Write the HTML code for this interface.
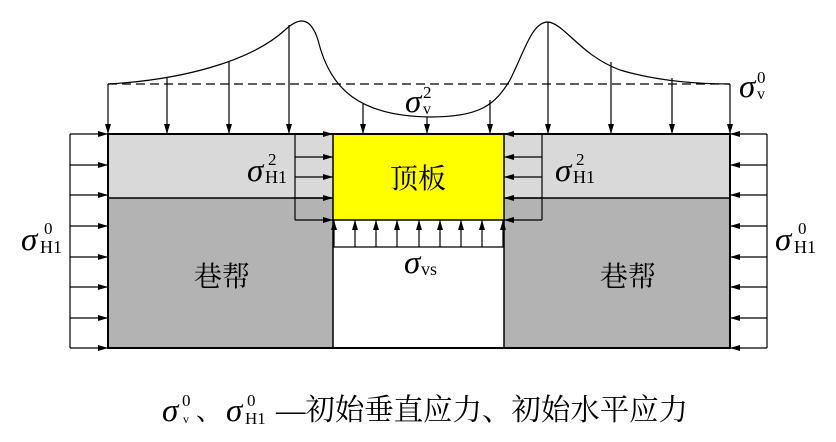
<!DOCTYPE html>
<html><head><meta charset="utf-8"><style>
html,body{margin:0;padding:0;background:#fff;}
svg{display:block;}
text{font-family:"Liberation Serif","Noto Serif CJK SC",serif;fill:#000;}
.s{font-size:33px;font-style:italic;}
</style></head><body>
<svg width="836" height="442" viewBox="0 0 836 442" xmlns="http://www.w3.org/2000/svg">
<defs>
<marker id="a" markerWidth="10" markerHeight="6" refX="10" refY="3" orient="auto" markerUnits="userSpaceOnUse">
<path d="M0,0 L10,3 L0,6 Z" fill="#000"/></marker>
</defs>
<rect x="108" y="134" width="622" height="64" fill="#d9d9d9"/>
<rect x="108" y="198" width="225" height="150" fill="#b3b3b3"/>
<rect x="504" y="198" width="226" height="150" fill="#b3b3b3"/>
<rect x="333" y="198" width="171" height="150" fill="#fff"/>
<rect x="333" y="134" width="171" height="86" fill="#ffff00" stroke="#000" stroke-width="1.5"/>
<rect x="108" y="134" width="622" height="214" fill="none" stroke="#000" stroke-width="2"/>
<g stroke="#000" stroke-width="1.5">
<line x1="108" y1="198" x2="333" y2="198"/>
<line x1="504" y1="198" x2="730" y2="198"/>
<line x1="333" y1="220" x2="333" y2="348"/>
<line x1="504" y1="220" x2="504" y2="348"/>
</g>
<g stroke="#000" stroke-width="1.2" fill="none">
<line x1="108" y1="84" x2="730" y2="84" stroke-dasharray="9,5"/>
<path d="M108,84 C180,80 250,62 285,30 C298,18 310,15 318,40 C330,90 360,116 430,117 C480,117 495,105 510,80 C525,50 532,22 548,22 C565,24 580,55 620,70 C660,82 700,84 730,84"/>
</g>
<g stroke="#000" stroke-width="1.2" marker-end="url(#a)">
<line x1="108" y1="84" x2="108" y2="134"/>
<line x1="167" y1="78" x2="167" y2="134"/>
<line x1="229" y1="62" x2="229" y2="134"/>
<line x1="289" y1="25" x2="289" y2="134"/>
<line x1="363" y1="104" x2="363" y2="134"/>
<line x1="427" y1="117" x2="427" y2="134"/>
<line x1="490" y1="100" x2="490" y2="134"/>
<line x1="548" y1="22" x2="548" y2="134"/>
<line x1="611" y1="62" x2="611" y2="134"/>
<line x1="672" y1="78" x2="672" y2="134"/>
<line x1="730" y1="84" x2="730" y2="134"/>
<line x1="70" y1="134" x2="108" y2="134"/>
<line x1="70" y1="165" x2="108" y2="165"/>
<line x1="70" y1="195" x2="108" y2="195"/>
<line x1="70" y1="226" x2="108" y2="226"/>
<line x1="70" y1="257" x2="108" y2="257"/>
<line x1="70" y1="287" x2="108" y2="287"/>
<line x1="70" y1="318" x2="108" y2="318"/>
<line x1="70" y1="348" x2="108" y2="348"/>
<line x1="767" y1="134" x2="730" y2="134"/>
<line x1="767" y1="165" x2="730" y2="165"/>
<line x1="767" y1="195" x2="730" y2="195"/>
<line x1="767" y1="226" x2="730" y2="226"/>
<line x1="767" y1="257" x2="730" y2="257"/>
<line x1="767" y1="287" x2="730" y2="287"/>
<line x1="767" y1="318" x2="730" y2="318"/>
<line x1="767" y1="348" x2="730" y2="348"/>
<line x1="295" y1="134" x2="333" y2="134"/>
<line x1="295" y1="157" x2="333" y2="157"/>
<line x1="295" y1="177" x2="333" y2="177"/>
<line x1="295" y1="198" x2="333" y2="198"/>
<line x1="295" y1="220" x2="333" y2="220"/>
<line x1="542" y1="134" x2="504" y2="134"/>
<line x1="542" y1="157" x2="504" y2="157"/>
<line x1="542" y1="177" x2="504" y2="177"/>
<line x1="542" y1="198" x2="504" y2="198"/>
<line x1="542" y1="220" x2="504" y2="220"/>
<line x1="334" y1="247" x2="334" y2="220"/>
<line x1="355" y1="247" x2="355" y2="220"/>
<line x1="376" y1="247" x2="376" y2="220"/>
<line x1="397" y1="247" x2="397" y2="220"/>
<line x1="419" y1="247" x2="419" y2="220"/>
<line x1="440" y1="247" x2="440" y2="220"/>
<line x1="461" y1="247" x2="461" y2="220"/>
<line x1="482" y1="247" x2="482" y2="220"/>
<line x1="503" y1="247" x2="503" y2="220"/>
</g>
<g stroke="#000" stroke-width="1.2">
<line x1="70" y1="134" x2="70" y2="348"/>
<line x1="767" y1="134" x2="767" y2="348"/>
<line x1="295" y1="134" x2="295" y2="220"/>
<line x1="542" y1="134" x2="542" y2="220"/>
<line x1="333" y1="247" x2="504" y2="247"/>
</g>
<text class="s" x="405" y="112">σ</text><text x="423" y="98" font-size="17">2</text><text x="423" y="114" font-size="16">v</text>
<text class="s" x="739" y="97">σ</text><text x="757" y="83" font-size="17">0</text><text x="757" y="99" font-size="16">v</text>
<text class="s" x="247" y="181">σ</text><text x="268" y="165" font-size="17">2</text><text x="265" y="183" font-size="18">H1</text>
<text class="s" x="555" y="181">σ</text><text x="576" y="165" font-size="17">2</text><text x="573" y="183" font-size="18">H1</text>
<text class="s" x="21" y="250">σ</text><text x="44" y="234" font-size="17">0</text><text x="40" y="253" font-size="18">H1</text>
<text class="s" x="775" y="250">σ</text><text x="798" y="234" font-size="17">0</text><text x="794" y="253" font-size="18">H1</text>
<text class="s" x="404" y="273">σ</text><text x="421" y="275" font-size="18">vs</text>
<text x="418" y="188" font-size="28" text-anchor="middle">顶板</text>
<text x="222" y="286" font-size="28" text-anchor="middle">巷帮</text>
<text x="628" y="286" font-size="28" text-anchor="middle">巷帮</text>
<text class="s" x="162" y="421">σ</text><text x="182" y="406" font-size="17">0</text><text x="183" y="423" font-size="12">v</text>
<text x="196" y="420" font-size="26">、</text>
<text class="s" x="226" y="421">σ</text><text x="247" y="406" font-size="17">0</text><text x="245" y="424" font-size="17">H1</text>
<text x="276" y="420" font-size="30" textLength="412" lengthAdjust="spacingAndGlyphs">—初始垂直应力、初始水平应力</text>
</svg>
</body></html>
